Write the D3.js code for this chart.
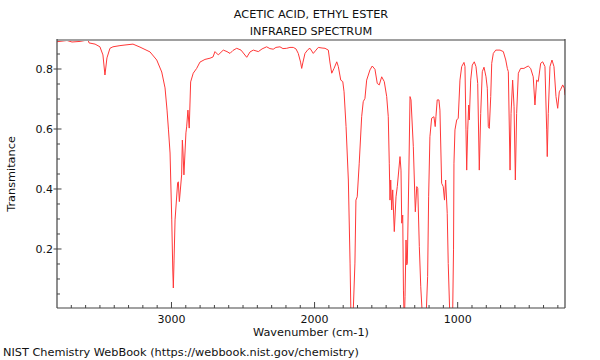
<!DOCTYPE html>
<html><head><meta charset="utf-8">
<script src="https://cdn.jsdelivr.net/npm/d3@7"></script>
<style>body{margin:0;background:#fff;}svg{display:block;font-family:"DejaVu Sans",sans-serif;}</style>
</head><body><svg id="c" width="600" height="360"></svg>
<script>
const titleLines = ["ACETIC ACID, ETHYL ESTER", "INFRARED SPECTRUM"];
const xLabel = "Wavenumber (cm-1)";
const yLabel = "Transmitance";
const footer = "NIST Chemistry WebBook (https://webbook.nist.gov/chemistry)";
const xMajorTicks = [3000, 2000, 1000];
const yMajorTicks = [0.2, 0.4, 0.6, 0.8];
const wavenumber = [3800,3765,3730,3695,3639,3583,3576,3534,3500,3479,3465,3451,3430,3409,3360,3325,3269,3220,3150,3103,3068,3045,3031,3021,3010,2998,2991,2987,2982,2975,2957,2952,2945,2929,2924,2920,2913,2899,2894,2885,2876,2866,2848,2824,2801,2766,2731,2710,2696,2673,2638,2612,2591,2570,2544,2514,2474,2451,2428,2393,2367,2335,2312,2289,2270,2242,2221,2195,2172,2149,2130,2114,2098,2090,2081,2067,2046,2032,2009,1990,1974,1948,1927,1904,1892,1880,1864,1845,1834,1817,1803,1794,1780,1764,1752,1745,1733,1718,1711,1702,1688,1671,1660,1648,1636,1613,1597,1578,1562,1548,1531,1513,1496,1485,1478,1473,1468,1461,1454,1443,1431,1422,1403,1396,1391,1384,1379,1373,1368,1361,1356,1352,1342,1333,1326,1310,1296,1286,1279,1268,1258,1246,1221,1210,1203,1194,1182,1166,1157,1152,1143,1131,1124,1112,1101,1092,1084,1073,1066,1057,1050,1036,1029,1026,1019,1007,996,984,972,956,949,942,937,930,923,919,909,898,884,872,860,849,839,828,816,802,793,786,779,769,762,751,734,704,681,664,653,646,634,627,616,606,597,588,576,560,537,523,507,490,472,460,448,437,420,406,390,378,374,367,355,341,327,313,301,290,280,266,255,250];
const transmittance = [0.891,0.893,0.895,0.890,0.892,0.897,0.887,0.883,0.874,0.847,0.780,0.837,0.869,0.874,0.878,0.880,0.883,0.873,0.857,0.830,0.790,0.737,0.663,0.597,0.520,0.297,0.130,0.070,0.163,0.297,0.420,0.424,0.358,0.447,0.563,0.530,0.447,0.587,0.607,0.663,0.603,0.757,0.786,0.802,0.823,0.832,0.836,0.840,0.858,0.847,0.863,0.858,0.852,0.862,0.869,0.863,0.839,0.857,0.863,0.858,0.867,0.874,0.868,0.866,0.872,0.874,0.868,0.869,0.872,0.872,0.867,0.852,0.823,0.802,0.823,0.852,0.865,0.869,0.852,0.863,0.872,0.870,0.869,0.863,0.820,0.786,0.802,0.824,0.808,0.763,0.758,0.724,0.608,0.430,0.153,-0.05,-0.05,0.153,0.363,0.374,0.486,0.641,0.691,0.702,0.763,0.797,0.810,0.799,0.752,0.747,0.774,0.758,0.708,0.641,0.486,0.363,0.430,0.330,0.397,0.258,0.374,0.408,0.508,0.463,0.286,0.313,0.063,-0.05,0.041,0.230,0.147,0.153,0.430,0.708,0.697,0.541,0.324,0.408,0.402,0.208,0.074,-0.03,-0.03,0.108,0.374,0.574,0.636,0.641,0.608,0.641,0.697,0.697,0.663,0.419,0.408,0.363,0.430,0.319,0.152,0.010,-0.05,-0.05,0.197,0.486,0.597,0.630,0.636,0.763,0.808,0.822,0.808,0.597,0.463,0.597,0.680,0.630,0.763,0.813,0.824,0.808,0.752,0.463,0.652,0.791,0.806,0.774,0.736,0.608,0.602,0.708,0.819,0.852,0.863,0.863,0.858,0.830,0.802,0.791,0.463,0.652,0.763,0.674,0.430,0.652,0.786,0.802,0.802,0.806,0.810,0.802,0.774,0.680,0.763,0.758,0.819,0.824,0.808,0.597,0.508,0.652,0.808,0.830,0.808,0.708,0.669,0.724,0.732,0.747,0.736,0.713];

const svg = d3.select("#c");
const L = 57, R = 565, T = 40, B = 308;
const x = d3.scaleLinear().domain([3800, 250]).range([L, R]);
const y = d3.scaleLinear().domain([0.0033, 0.8967]).range([B, T]);
const data = wavenumber.map((w, i) => ({w, t: transmittance[i]}));

svg.append("defs").append("clipPath").attr("id", "clip")
  .append("rect").attr("x", L).attr("y", T).attr("width", R - L).attr("height", B - T);

svg.append("path").datum(data)
  .attr("clip-path", "url(#clip)")
  .attr("fill", "none").attr("stroke", "#ff3838").attr("stroke-width", 1)
  .attr("stroke-linejoin", "round")
  .attr("d", d3.line().x(d => x(d.w)).y(d => y(d.t)));

// frame
svg.append("line").attr("x1", L).attr("x2", R).attr("y1", T).attr("y2", T)
  .attr("stroke", "#a0a0a0").attr("stroke-width", 2);
svg.append("line").attr("x1", R).attr("x2", R).attr("y1", T - 1).attr("y2", B)
  .attr("stroke", "#444").attr("stroke-width", 1.2);
svg.append("line").attr("x1", L).attr("x2", L).attr("y1", T - 1).attr("y2", B)
  .attr("stroke", "#444").attr("stroke-width", 1.2);
svg.append("line").attr("x1", L).attr("x2", R).attr("y1", B).attr("y2", B)
  .attr("stroke", "#444").attr("stroke-width", 1.2);

const tk = svg.append("g").attr("stroke", "#444").attr("stroke-width", 1);
d3.range(300, 3800, 100).forEach(v => {
  const major = xMajorTicks.includes(v);
  tk.append("line").attr("x1", x(v)).attr("x2", x(v)).attr("y1", B).attr("y2", B - (major ? 6 : 3));
});
d3.range(1, 18).map(i => i * 0.05).forEach(v => {
  const major = yMajorTicks.some(m => Math.abs(m - v) < 1e-6);
  tk.append("line").attr("y1", y(v)).attr("y2", y(v)).attr("x1", major ? L - 3.5 : L).attr("x2", L + (major ? 4.5 : 3));
});

const txt = svg.append("g").attr("fill", "#111").attr("font-size", 11.3);
xMajorTicks.forEach(v => txt.append("text").attr("x", x(v)).attr("y", 323).attr("text-anchor", "middle").attr("font-size", 11).text(v));
yMajorTicks.forEach(v => txt.append("text").attr("x", 53).attr("y", y(v) + 4.3).attr("text-anchor", "end").attr("font-size", 11).text(v.toFixed(1)));
txt.append("text").attr("x", (L + R) / 2).attr("y", 335.5).attr("text-anchor", "middle").text(xLabel);
txt.append("text").attr("transform", `translate(14.5,${(T + B) / 2}) rotate(-90)`).attr("text-anchor", "middle").text(yLabel);
titleLines.forEach((s, i) => txt.append("text").attr("x", (L + R) / 2).attr("y", 17.5 + i * 17).attr("text-anchor", "middle").text(s));
txt.append("text").attr("x", 3).attr("y", 356).text(footer);
</script></body></html>
